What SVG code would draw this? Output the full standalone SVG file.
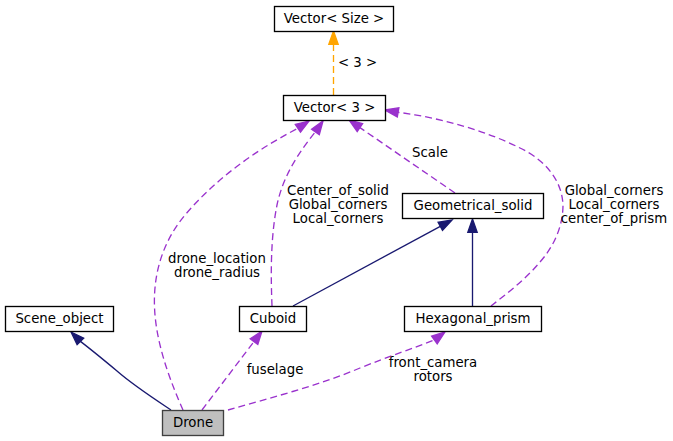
<svg xmlns="http://www.w3.org/2000/svg" width="673" height="441" viewBox="0 0 673 441">
<style>
text{font-family:"DejaVu Sans","Liberation Sans",sans-serif;font-size:13.3px;fill:#000}
.node rect{fill:#fff;stroke:#000;stroke-width:1.33}
.cur rect{fill:#bfbfbf;stroke:#404040}
.inh{fill:none;stroke:#191970;stroke-width:1.33}
.inhA{fill:#191970;stroke:#191970;stroke-width:1.33}
.use{fill:none;stroke:#9a32cd;stroke-width:1.33;stroke-dasharray:7,4}
.useA{fill:#9a32cd;stroke:#9a32cd;stroke-width:1.33}
.tpl{fill:none;stroke:#ffa500;stroke-width:1.33;stroke-dasharray:7,4}
.tplA{fill:#ffa500;stroke:#ffa500;stroke-width:1.33}
.c{text-anchor:middle}
</style>
<rect width="673" height="441" fill="#fff"/>
<g id="connectors">
  <path class="tpl" d="M333.5,95 L333.5,44"/>
  <polygon class="tplA" points="333.5,31 328.8,44.3 338.2,44.3"/>
  <text x="338" y="67">&lt; 3 &gt;</text>

  <path class="inh" d="M171,410 C153,398 133,385 117,371 C105,361 93,351 80.4,341.4"/>
  <polygon class="inhA" points="71,332 83.7,338.1 77.1,344.7"/>

  <path class="use" d="M202,410 L254,341.6"/>
  <polygon class="useA" points="262,331 257.8,344.4 250.2,338.8"/>
  <text class="c" x="275" y="374">fuselage</text>

  <path class="use" d="M228,410 C270,398 320,385 360,368 C390,356 414,348 434.4,340"/>
  <polygon class="useA" points="445,332 437.2,343.8 431.6,336.2"/>
  <text class="c" x="433" y="367">front_camera</text>
  <text class="c" x="433" y="381">rotors</text>

  <path class="use" d="M183,410 C172,385 158,350 155,315 C152,280 160,245 185,215 C214,181 252,152 297.9,128.3"/>
  <polygon class="useA" points="309,121 300.5,132.2 295.3,124.4"/>
  <text class="c" x="217" y="263">drone_location</text>
  <text class="c" x="217" y="277">drone_radius</text>

  <path class="use" d="M272,306 C271,280 270,240 277,205 C283,176 299,152 315.4,131.9"/>
  <polygon class="useA" points="323,121 319.3,134.6 311.6,129.2"/>
  <text class="c" x="338" y="195">Center_of_solid</text>
  <text class="c" x="338" y="209">Global_corners</text>
  <text class="c" x="338" y="223">Local_corners</text>

  <path class="use" d="M455,193 L359.9,127.6"/>
  <polygon class="useA" points="349,120 362.6,123.7 357.2,131.5"/>
  <text class="c" x="430" y="157">Scale</text>

  <path class="use" d="M491,306 C505,295 525,280 540,262 C555,245 563,225 563,205 C562,180 545,160 520,148 C486,131 442,118 398.1,112.3"/>
  <polygon class="useA" points="385,110 398.9,107.7 397.3,116.9"/>
  <text class="c" x="614" y="195">Global_corners</text>
  <text class="c" x="614" y="209">Local_corners</text>
  <text class="c" x="614" y="223">center_of_prism</text>

  <path class="inh" d="M293,306 L440.3,226.3"/>
  <polygon class="inhA" points="452,220 442.5,230.4 438.1,222.2"/>

  <path class="inh" d="M472.5,306 L472.5,232"/>
  <polygon class="inhA" points="472.5,219 467.8,232.3 477.2,232.3"/>
</g>
<g id="node_vector_size" class="node">
  <rect x="274.5" y="6.5" width="119" height="25"/>
  <text class="c" x="334" y="23">Vector&lt; Size &gt;</text>
</g>
<g id="node_vector_3" class="node">
  <rect x="283.5" y="95.5" width="102" height="25"/>
  <text class="c" x="334.5" y="112">Vector&lt; 3 &gt;</text>
</g>
<g id="node_geometrical_solid" class="node">
  <rect x="402.5" y="193.5" width="141" height="25"/>
  <text class="c" x="473" y="210">Geometrical_solid</text>
</g>
<g id="node_scene_object" class="node">
  <rect x="5.5" y="306.5" width="108" height="25"/>
  <text class="c" x="59.5" y="323">Scene_object</text>
</g>
<g id="node_cuboid" class="node">
  <rect x="239.5" y="306.5" width="67" height="25"/>
  <text class="c" x="273" y="323">Cuboid</text>
</g>
<g id="node_hexagonal_prism" class="node">
  <rect x="404.5" y="306.5" width="137" height="25"/>
  <text class="c" x="473" y="323">Hexagonal_prism</text>
</g>
<g id="node_drone" class="node cur">
  <rect x="162.5" y="410.5" width="61" height="25"/>
  <text class="c" x="193" y="427">Drone</text>
</g>
</svg>
